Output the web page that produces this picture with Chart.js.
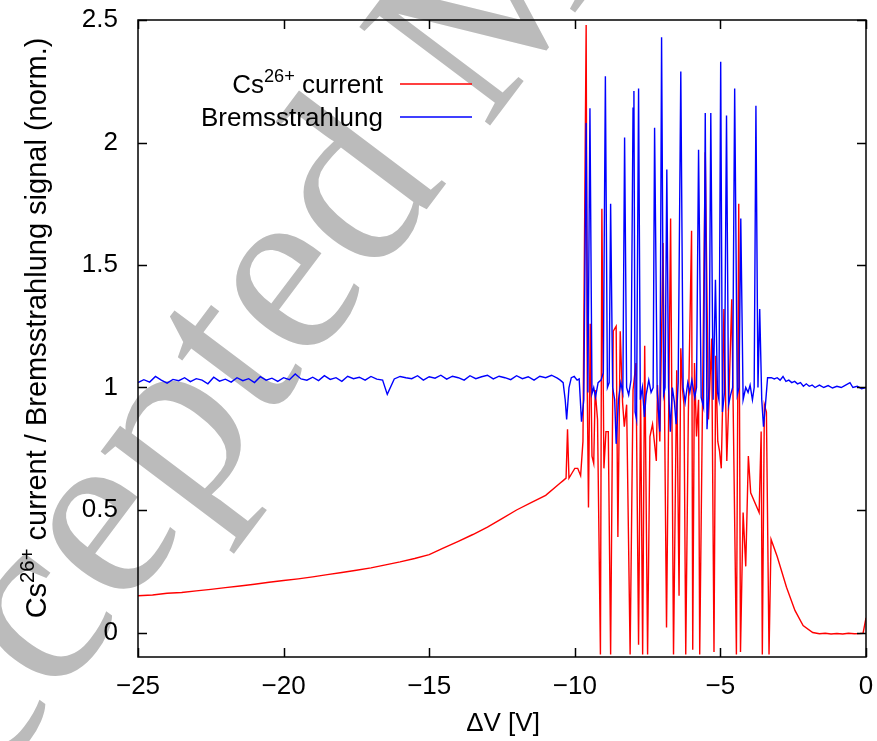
<!DOCTYPE html>
<html>
<head>
<meta charset="utf-8">
<script src="https://cdn.jsdelivr.net/npm/chart.js@4.4.1/dist/chart.umd.min.js"></script>
<style>
html, body { margin: 0; padding: 0; background: #fff; }
#wrap { width: 877px; height: 741px; }
</style>
</head>
<body>
<div id="wrap"><canvas id="chart" width="877" height="741"></canvas></div>
<script>
// values
const xTicks = [-25, -20, -15, -10, -5, 0];
const yTicks = [0, 0.5, 1, 1.5, 2, 2.5];

const currentV = [
    -25, -24.5, -24, -23.5, -23, -22.5, -22, -21.5, -21, -20.5, -20, -19.5, -19, -18.5, -18, -17.5,
    -17, -16.5, -16, -15.5, -15, -14.5, -14, -13.5, -13, -12.5, -12, -11.5, -11, -10.5,
    -10.4, -10.3, -10.25, -10.2, -10.1, -10.0, -9.9, -9.8, -9.72, -9.61, -9.57, -9.53, -9.47, -9.41,
    -9.35, -9.3, -9.22, -9.12, -9.07, -9.0, -8.93, -8.85, -8.77, -8.68, -8.58, -8.52, -8.44, -8.36,
    -8.3, -8.22, -8.1, -8.0, -7.9, -7.81, -7.74, -7.67, -7.6, -7.5, -7.42, -7.33, -7.2, -7.16, -7.08,
    -6.97, -6.85, -6.71, -6.61, -6.5, -6.42, -6.36, -6.3, -6.25, -6.19, -6.1, -5.99, -5.95, -5.89,
    -5.82, -5.75, -5.71, -5.52, -5.41, -5.3, -5.22, -5.16, -5.09, -5.03, -4.97, -4.93, -4.88, -4.78,
    -4.7, -4.61, -4.45, -4.37, -4.31, -4.22, -4.13, -4.04, -3.96, -3.67, -3.6, -3.56, -3.49, -3.42,
    -3.33, -3.26, -3.05, -2.73, -2.44, -2.16, -1.83, -1.6, -1.4, -1.2, -1.0, -0.8, -0.6, -0.4, -0.2,
    -0.1, 0
];
const currentSignal = [
    0.150, 0.153, 0.160, 0.163, 0.170, 0.176, 0.183, 0.190, 0.197, 0.205, 0.212, 0.219, 0.227, 0.236, 0.245, 0.254,
    0.264, 0.276, 0.288, 0.302, 0.318, 0.345, 0.372, 0.400, 0.430, 0.465, 0.500, 0.530, 0.560, 0.610,
    0.62, 0.63, 0.83, 0.63, 0.65, 0.67, 0.67, 0.64, 0.78, 2.48, 0.97, 0.51, 1.26, 0.72,
    0.69, 0.99, 0.87, -0.09, 1.73, 0.67, 0.82, 0.82, -0.09, 1.23, 1.25, 0.39, 1.23, 0.94,
    0.84, 0.93, -0.09, 0.99, 1.10, -0.05, 0.99, -0.09, 1.17, -0.09, 0.80, 0.85, 0.70, 1.01, 0.78,
    1.59, 0.02, 1.69, -0.09, 1.07, 0.15, 1.16, 0.99, 0.93, -0.09, 0.90, 1.64, -0.07, 1.10,
    0.80, 0.95, -0.09, 1.96, 0.87, 1.20, -0.08, 1.13, 0.78, 0.74, 0.67, 0.90, 1.32, 0.70,
    0.99, 1.36, -0.09, 1.75, -0.08, 0.49, 0.27, 0.72, 0.57, 0.49, 0.82, -0.09, 0.93, 0.90,
    -0.09, 0.38, 0.31, 0.185, 0.09, 0.028, 0.0, -0.005, -0.003, -0.006, -0.004, -0.006, -0.003, -0.005, -0.004,
    -0.003, 0.06
];

const bremsV = [
    -25.0, -24.8, -24.6, -24.4, -24.2, -24.0, -23.8, -23.6, -23.4, -23.2, -23.0, -22.8, -22.6, -22.4, -22.2, -22.0,
    -21.8, -21.6, -21.4, -21.2, -21.0, -20.8, -20.6, -20.4, -20.2, -20.0, -19.8, -19.6, -19.4, -19.2, -19.0, -18.8,
    -18.6, -18.4, -18.2, -18.0, -17.8, -17.6, -17.4, -17.2, -17.0, -16.8, -16.6, -16.44, -16.2, -16.0, -15.8, -15.6,
    -15.4, -15.2, -15.0, -14.8, -14.6, -14.4, -14.2, -14.0, -13.8, -13.6, -13.4, -13.2, -13.0, -12.8, -12.6, -12.4,
    -12.2, -12.0, -11.8, -11.6, -11.4, -11.2, -11.0, -10.8, -10.6,
    -10.5, -10.4, -10.33, -10.28, -10.2, -10.12, -10.02, -9.92, -9.85, -9.77, -9.69,
    -9.61, -9.55, -9.48, -9.41, -9.35, -9.29, -9.2, -9.1, -9.02, -8.95, -8.88, -8.82, -8.77, -8.7,
    -8.63, -8.58, -8.5, -8.42, -8.35, -8.29, -8.22, -8.15, -8.07, -8.0, -7.97, -7.93, -7.88, -7.81,
    -7.75, -7.68, -7.61, -7.55, -7.46, -7.38, -7.31, -7.26, -7.17, -7.08, -7.02, -6.95, -6.9, -6.84,
    -6.78, -6.72, -6.65, -6.58, -6.52, -6.45, -6.36, -6.28, -6.21, -6.12, -6.05, -5.98, -5.88, -5.82,
    -5.75, -5.66, -5.58, -5.52, -5.46, -5.39, -5.33, -5.25, -5.17, -5.1, -5.05, -4.99, -4.93, -4.86,
    -4.79, -4.72, -4.65, -4.58, -4.51, -4.42, -4.36, -4.30, -4.22, -4.13, -4.05, -3.98, -3.9, -3.84,
    -3.78, -3.71, -3.65, -3.58, -3.52, -3.46, -3.38,
    -3.25, -3.15, -3.05, -2.95, -2.85, -2.75, -2.65, -2.55, -2.45, -2.35, -2.25, -2.15, -2.05, -1.95,
    -1.85, -1.75, -1.6, -1.45, -1.3, -1.15, -1.0, -0.85, -0.7, -0.55, -0.45, -0.3, -0.15, 0
];
const bremsSignal = [
    1.020, 1.032, 1.022, 1.045, 1.030, 1.018, 1.033, 1.028, 1.040, 1.024, 1.036, 1.030, 1.015, 1.042, 1.026, 1.034,
    1.022, 1.040, 1.028, 1.036, 1.020, 1.044, 1.030, 1.038, 1.025, 1.040, 1.032, 1.055, 1.035, 1.030, 1.042, 1.028,
    1.048, 1.033, 1.040, 1.025, 1.046, 1.036, 1.042, 1.030, 1.045, 1.034, 1.030, 0.972, 1.035, 1.045, 1.040, 1.036,
    1.048, 1.030, 1.044, 1.038, 1.050, 1.034, 1.046, 1.040, 1.030, 1.048, 1.036, 1.044, 1.050, 1.035, 1.046, 1.040,
    1.032, 1.048, 1.036, 1.044, 1.030, 1.046, 1.040, 1.050, 1.038,
    1.03, 1.02, 0.95, 0.87, 1.00, 1.04, 1.045, 1.03, 1.035, 0.86, 0.95,
    2.08, 0.98, 2.14, 0.975, 1.00, 0.96, 1.02, 1.03, 1.06, 2.27, 1.00, 1.02, 1.75, 1.00,
    0.95, 0.77, 0.95, 1.02, 0.98, 2.02, 1.00, 0.97, 1.03, 2.14, 2.21, 0.90, 0.87, 2.22,
    0.95, 1.00, 0.88, 0.97, 1.03, 0.98, 1.00, 2.06, 0.98, 0.82, 2.43, 0.97, 1.00, 1.89,
    1.00, 0.82, 1.00, 0.94, 0.85, 1.02, 2.29, 1.00, 0.94, 1.02, 0.98, 1.03, 0.96, 1.00,
    1.97, 0.96, 0.92, 2.12, 0.83, 1.00, 2.12, 0.95, 1.44, 0.98, 0.95, 2.33, 0.90, 0.98,
    2.11, 0.93, 0.97, 1.00, 2.22, 0.97, 1.00, 1.69, 0.95, 1.00, 0.98, 1.01, 0.95, 1.00,
    2.15, 1.00, 1.32, 0.95, 0.84, 0.92, 1.04,
    1.040, 1.035, 1.040, 1.030, 1.045, 1.025, 1.030, 1.020, 1.025, 1.015, 1.020, 1.005, 1.015, 1.005,
    1.010, 1.000, 1.010, 1.000, 1.008, 0.998, 1.005, 1.000, 1.010, 1.020, 1.000, 1.005, 0.995, 1.000
];

const FONT = '"Liberation Sans", Arial, Helvetica, sans-serif';
const SIZE = 26;

function toPoints(xs, ys)
{
    let pts = [];
    for (let i = 0; i < xs.length; i++)
    {
        pts.push({ x: xs[i], y: ys[i] });
    }
    return pts;
}

// parts: [{ t: 'text', sup: bool }], drawn left to right from x
function richWidth(ctx, parts, size)
{
    let w = 0;
    for (let p of parts)
    {
        ctx.font = (p.sup ? size * 0.7 : size) + 'px ' + FONT;
        w += ctx.measureText(p.t).width;
    }
    return w;
}

function drawRich(ctx, parts, x, y, size)
{
    for (let p of parts)
    {
        ctx.font = (p.sup ? size * 0.7 : size) + 'px ' + FONT;
        ctx.fillText(p.t, x, p.sup ? y - size * 0.42 : y);
        x += ctx.measureText(p.t).width;
    }
}

const currentLabel = [{ t: 'Cs' }, { t: '26+', sup: true }, { t: ' current' }];
const bremsLabel = [{ t: 'Bremsstrahlung' }];
const yTitle = [{ t: 'Cs' }, { t: '26+', sup: true }, { t: ' current / Bremsstrahlung signal (norm.)' }];

const watermark = {
    id: 'watermark',
    beforeDraw(chart)
    {
        let ctx = chart.ctx;
        ctx.save();
        ctx.fillStyle = '#ffffff';
        ctx.fillRect(0, 0, chart.width, chart.height);
        ctx.translate(-120, 935);
        ctx.rotate(-53 * Math.PI / 180);
        ctx.fillStyle = '#bbbbbb';
        ctx.font = '250px "Liberation Serif", "Times New Roman", serif';
        ctx.textAlign = 'left';
        ctx.textBaseline = 'alphabetic';
        ctx.fillText('Accepted Manuscript', 0, 0);
        ctx.restore();
    }
};

const frame = {
    id: 'frame',
    afterDatasetsDraw(chart)
    {
        let ctx = chart.ctx;
        let a = chart.chartArea;
        let sx = chart.scales.x;
        let sy = chart.scales.y;
        ctx.save();
        ctx.strokeStyle = '#000';
        ctx.lineWidth = 1.5;
        ctx.strokeRect(a.left, a.top, a.right - a.left, a.bottom - a.top);
        ctx.beginPath();
        for (let v of xTicks)
        {
            let px = Math.round(sx.getPixelForValue(v)) + 0.5;
            ctx.moveTo(px, a.bottom);
            ctx.lineTo(px, a.bottom - 9);
            ctx.moveTo(px, a.top);
            ctx.lineTo(px, a.top + 9);
        }
        for (let v of yTicks)
        {
            let py = Math.round(sy.getPixelForValue(v)) + 0.5;
            ctx.moveTo(a.left, py);
            ctx.lineTo(a.left + 9, py);
            ctx.moveTo(a.right, py);
            ctx.lineTo(a.right - 9, py);
        }
        ctx.stroke();
        ctx.restore();
    }
};

const texts = {
    id: 'texts',
    afterDraw(chart)
    {
        let ctx = chart.ctx;
        ctx.save();
        ctx.fillStyle = '#000';
        ctx.textBaseline = 'alphabetic';
        ctx.textAlign = 'left';

        // legend
        let right = 383;
        drawRich(ctx, currentLabel, right - richWidth(ctx, currentLabel, SIZE), 93, SIZE);
        drawRich(ctx, bremsLabel, right - richWidth(ctx, bremsLabel, SIZE), 126, SIZE);
        ctx.lineWidth = 1.4;
        ctx.strokeStyle = '#ff0000';
        ctx.beginPath();
        ctx.moveTo(400, 84);
        ctx.lineTo(472, 84);
        ctx.stroke();
        ctx.strokeStyle = '#0000ff';
        ctx.beginPath();
        ctx.moveTo(400, 117);
        ctx.lineTo(472, 117);
        ctx.stroke();

        // x title
        ctx.font = SIZE + 'px ' + FONT;
        ctx.textAlign = 'center';
        ctx.fillText('\u0394V [V]', 503, 731);

        // y title
        ctx.textAlign = 'left';
        ctx.translate(46, 328);
        ctx.rotate(-Math.PI / 2);
        drawRich(ctx, yTitle, -richWidth(ctx, yTitle, 29) / 2, 0, 29);
        ctx.restore();
    }
};

new Chart('chart', {
    type: 'scatter',
    data: {
        datasets: [
            {
                label: 'Cs26+ current',
                data: toPoints(currentV, currentSignal),
                showLine: true,
                borderColor: '#ff0000',
                backgroundColor: '#ff0000',
                borderWidth: 1.4,
                pointRadius: 0,
                order: 1,
            },
            {
                label: 'Bremsstrahlung',
                data: toPoints(bremsV, bremsSignal),
                showLine: true,
                borderColor: '#0000ff',
                backgroundColor: '#0000ff',
                borderWidth: 1.4,
                pointRadius: 0,
                order: 0,
            },
        ]
    },
    options: {
        responsive: false,
        devicePixelRatio: 1,
        animation: false,
        layout: { padding: { top: 20, right: 11, left: 0, bottom: 0 } },
        plugins: {
            legend: { display: false },
            tooltip: { enabled: false },
        },
        scales: {
            x: {
                type: 'linear',
                min: -25,
                max: 0,
                grid: { display: false, drawTicks: false },
                border: { display: false },
                afterBuildTicks: scale => { scale.ticks = xTicks.map(v => ({ value: v })); },
                afterFit: scale =>
                {
                    scale.height = 84;
                    scale.paddingLeft = 0;
                    scale.paddingRight = 0;
                },
                ticks: {
                    color: '#000',
                    padding: 14,
                    maxRotation: 0,
                    font: { family: FONT, size: SIZE },
                    callback: v => v < 0 ? '\u2212' + Math.abs(v) : String(v),
                },
            },
            y: {
                type: 'linear',
                min: -0.1,
                max: 2.5,
                grid: { display: false, drawTicks: false },
                border: { display: false },
                afterBuildTicks: scale => { scale.ticks = yTicks.map(v => ({ value: v })); },
                afterFit: scale =>
                {
                    scale.width = 138;
                    scale.paddingTop = 0;
                    scale.paddingBottom = 0;
                },
                ticks: {
                    color: '#000',
                    padding: 20,
                    font: { family: FONT, size: SIZE },
                    callback: v => String(v),
                },
            },
        },
    },
    plugins: [watermark, frame, texts],
});
</script>
</body>
</html>
